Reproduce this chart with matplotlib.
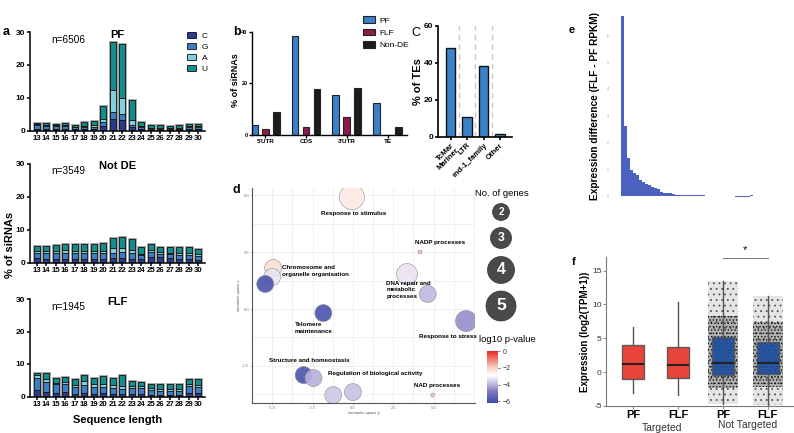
import numpy as np
import matplotlib as mpl
import matplotlib.pyplot as plt
from matplotlib.colors import LinearSegmentedColormap, Normalize

plt.rcParams['font.family'] = ['Liberation Sans', 'DejaVu Sans']
plt.rcParams['hatch.linewidth'] = 0.6

W, H = 794, 433

# ---- panel a : siRNA length / first nucleotide ----
seq_len = list(range(13, 31))
nt_names = ['C', 'G', 'A', 'U']

pf_C = [0.5, 0.5, 0.5, 0.5, 0.4, 0.5, 0.6, 1.5, 3.6, 3.3, 1.0, 0.5, 0.3, 0.3, 0.3, 0.3, 0.4, 0.4]
pf_G = [1.1, 1.0, 0.9, 0.8, 0.6, 0.7, 0.6, 1.1, 1.9, 1.6, 0.7, 0.5, 0.3, 0.3, 0.3, 0.3, 0.6, 0.6]
pf_A = [0.3, 0.2, 0.2, 0.3, 0.2, 0.3, 0.4, 1.0, 6.9, 4.9, 1.5, 0.3, 0.2, 0.2, 0.2, 0.2, 0.3, 0.3]
pf_U = [0.5, 0.5, 0.4, 0.8, 0.55, 1.0, 1.2, 4.0, 14.6, 16.6, 6.1, 1.2, 0.75, 0.75, 0.65, 0.75, 0.7, 0.7]

nd_C = [1.3, 1.2, 1.2, 1.2, 1.1, 1.1, 1.2, 1.2, 1.4, 1.3, 1.2, 1.0, 1.8, 1.6, 1.3, 1.2, 1.1, 0.9]
nd_G = [1.7, 1.6, 1.8, 1.8, 1.7, 1.7, 1.6, 1.6, 1.6, 1.8, 1.7, 1.2, 1.4, 1.0, 1.2, 1.2, 1.3, 1.2]
nd_A = [0.6, 0.6, 0.6, 0.7, 0.6, 0.6, 0.7, 0.7, 1.3, 1.2, 1.0, 0.5, 0.6, 0.5, 0.5, 0.5, 0.6, 0.5]
nd_U = [1.5, 1.5, 1.7, 2.0, 2.1, 2.1, 2.2, 2.4, 3.2, 3.5, 3.2, 1.9, 1.7, 1.5, 1.8, 1.9, 1.8, 1.6]

flf_C = [1.9, 1.4, 1.1, 1.3, 0.8, 1.0, 0.9, 1.2, 0.8, 0.9, 0.8, 0.7, 0.6, 0.6, 0.6, 0.6, 1.2, 1.0]
flf_G = [3.9, 3.0, 2.6, 2.7, 2.2, 2.4, 2.1, 1.8, 1.7, 1.5, 1.7, 1.9, 1.3, 1.2, 1.1, 1.1, 1.9, 1.8]
flf_A = [0.8, 1.0, 0.6, 0.6, 0.6, 1.3, 0.9, 0.8, 0.9, 0.9, 0.6, 0.5, 0.6, 0.5, 0.5, 0.5, 0.7, 0.7]
flf_U = [0.7, 1.7, 1.4, 1.5, 1.7, 1.8, 1.8, 2.5, 2.3, 3.2, 1.7, 1.5, 1.5, 1.5, 1.6, 1.5, 1.6, 1.9]

a_titles = ['PF', 'Not DE', 'FLF']
a_counts = ['n=6506', 'n=3549', 'n=1945']

# ---- panel b : siRNA location ----
regions = ["5'UTR", 'CDS', "3'UTR", 'TE']
b_groups = ['PF', 'FLF', 'Non-DE']
b_pf = [3.9, 38.5, 15.5, 12.5]
b_flf = [2.2, 3.2, 6.8, 0.0]
b_nonde = [9.0, 17.8, 18.3, 3.1]

# ---- panel c : TE classes ----
te_names = ['TcMar\nMariner', 'LTR', 'rnd-1_family', 'Other']
te_pct = [48.2, 10.5, 38.2, 1.5]

# ---- panel d : GO semantic space ----
go_x = [-0.06, 4.15, 3.35, 4.63, 7.01, -1.83, -4.94, -5.0, -5.43, -3.05, -2.44, -1.22, 0.0, 4.94]
go_y = [4.93, 2.51, 1.54, 0.66, -0.53, -0.18, 1.81, 1.41, 1.10, -2.91, -3.04, -3.79, -3.66, -3.79]
go_genes = [5, 1, 4, 3, 4, 3, 3, 3, 3, 3, 3, 3, 3, 1]
go_logp = [-2.5, -1.8, -3.3, -3.9, -4.5, -5.8, -2.3, -3.3, -5.8, -5.8, -4.0, -3.7, -3.8, -1.8]
go_labels = ['Response to stimulus', 'NADP processes', 'Chromosome and\norganelle organisation',
             'DNA repair and\nmetabolic\nprocesses', 'Telomere\nmaintenance', 'Response to stress',
             'Structure and homeostasis', 'Regulation of biological activity', 'NAD processes']
gene_legend = [2, 3, 4, 5]

# ---- panel e : expression difference ----
expr_diff = [6.73, 2.61, 1.42, 0.96, 0.86, 0.77, 0.59, 0.50, 0.44, 0.39, 0.34, 0.30, 0.24, 0.14,
             0.11, 0.11, 0.11, 0.05, 0.04, 0.03, 0.03, 0.02, 0.02, 0.01, 0.01, 0.01, 0.01, 0.01,
             0.0, 0.0, 0.0, 0.0, 0.0, 0.0, 0.0, 0.0, 0.0, -0.02, -0.03, -0.03, -0.03, -0.04, -0.04, 0.01]

# ---- panel f : expression boxplots ----
f_ticks = ['PF', 'FLF', 'PF', 'FLF']
f_groups = ['Targeted', 'Not Targeted']
f_med = [1.13, 1.03, 1.32, 1.32]
f_q1 = [-0.98, -0.88, -0.39, -0.25]
f_q3 = [4.07, 3.77, 5.25, 4.41]
f_wlo = [-3.04, -3.33, -4.66, -4.9]
f_whi = [6.7, 10.3, 13.5, 11.2]


def rect(l, t, r, b):
    return [l / W, 1 - b / H, (r - l) / W, (b - t) / H]


def ftext(x, y, s, **kw):
    fig.text(x / W, 1 - y / H, s, **kw)


def gp_axes(ax, lw=1.1):
    for s in ['top', 'right']:
        ax.spines[s].set_visible(False)
    for s in ['left', 'bottom']:
        ax.spines[s].set_linewidth(lw)
    ax.tick_params(length=2.5, width=lw, pad=1)


fig = plt.figure(figsize=(W / 100, H / 100), dpi=100)

# ---------------- a ----------------
nt_colors = ['#2b3a8f', '#3c7ec6', '#80d0de', '#138d8c']
a_data = [[pf_C, pf_G, pf_A, pf_U], [nd_C, nd_G, nd_A, nd_U], [flf_C, flf_G, flf_A, flf_U]]
a_rects = [(30, 32, 205, 130.5), (30, 163.5, 205, 262.5), (30, 299, 205, 396.5)]
for k in range(3):
    ax = fig.add_axes(rect(*a_rects[k]))
    parts = [np.array(p) for p in a_data[k]]
    total = np.sum(parts, axis=0)
    ax.bar(seq_len, total, width=0.66, facecolor='none', edgecolor='#a0a0a0', linewidth=2.0, zorder=1)
    bottom = np.zeros(len(seq_len))
    for p, c, name in zip(parts, nt_colors, nt_names):
        ax.bar(seq_len, p, bottom=bottom, width=0.66, color=c, edgecolor='#111111',
               linewidth=0.6, label=name, zorder=2)
        bottom += p
    ax.set_xlim(12.3, 30.7)
    ax.set_ylim(0, 30)
    ax.set_yticks([0, 10, 20, 30])
    ax.set_xticks(seq_len)
    ax.set_xticklabels([str(s) for s in seq_len], fontsize=5.6, fontweight='bold')
    ax.set_yticklabels(['0', '10', '20', '30'], fontsize=6, fontweight='bold')
    gp_axes(ax)
    ax.tick_params(axis='x', length=2)
    ax.text(0.12, 0.92, a_counts[k], transform=ax.transAxes, fontsize=7.2, va='center')
    ax.text(0.5, 0.97, a_titles[k], transform=ax.transAxes, fontsize=8, fontweight='bold',
            ha='center', va='center')
    if k == 0:
        ax.legend(loc='upper right', bbox_to_anchor=(1.06, 1.08), frameon=False, fontsize=6,
                  handlelength=1.1, handleheight=0.8, labelspacing=0.35, handletextpad=0.6)

ftext(3, 32, 'a', fontsize=9, fontweight='bold', va='center')
ftext(10, 245, '% of siRNAs', fontsize=8, fontweight='bold', rotation=90, ha='center', va='center')
ftext(118, 420, 'Sequence length', fontsize=8, fontweight='bold', ha='center', va='center')

# ---------------- b ----------------
ax = fig.add_axes(rect(251.7, 31.7, 406.7, 135))
xb = np.arange(len(regions))
b_colors = ['#3b80c9', '#8c1a4b', '#1c1c1c']
for off, vals, c, name in zip([-0.27, 0, 0.27], [b_pf, b_flf, b_nonde], b_colors, b_groups):
    ax.bar(xb + off, vals, width=0.165, color=c, edgecolor='#222222', linewidth=0.8, label=name)
ax.set_xlim(-0.334, 3.47)
ax.set_ylim(0, 40)
ax.set_yticks([0, 20, 40])
ax.set_yticklabels(['0', '20', '40'], fontsize=4, fontweight='bold')
ax.set_xticks(xb)
ax.set_xticklabels(regions, fontsize=4.5, fontweight='bold')
gp_axes(ax, 1.0)
ax.tick_params(length=2)
ax.legend(loc='upper left', bbox_to_anchor=(0.67, 1.22), frameon=False, fontsize=6,
          handlelength=1.4, handleheight=0.9, labelspacing=0.45, handletextpad=0.6)
ftext(233, 32, 'b', fontsize=9, fontweight='bold', va='center')
ftext(235, 80, '% of siRNAs', fontsize=6.5, fontweight='bold', rotation=90, ha='center', va='center')

# ---------------- c ----------------
ax = fig.add_axes(rect(438.3, 25.7, 511.7, 136.7))
xc = np.arange(len(te_names))
ax.bar(xc, te_pct, width=0.58, color='#3d82c8', edgecolor='#111111', linewidth=1.0, zorder=2)
for xv in xc[:-1] + 0.5:
    ax.axvline(xv, color='#c8c8c8', linestyle=(0, (4, 3)), linewidth=1.0, zorder=1)
ax.set_xlim(-0.74, 3.7)
ax.set_ylim(0, 60)
ax.set_yticks([0, 20, 40, 60])
ax.set_yticklabels(['0', '20', '40', '60'], fontsize=6, fontweight='bold')
ax.set_xticks(xc)
ax.set_xticklabels(te_names, fontsize=5.5, fontweight='bold', rotation=45, ha='right',
                   rotation_mode='anchor', linespacing=1.0)
gp_axes(ax, 1.2)
ax.set_ylabel('% of TEs', fontsize=8, fontweight='bold', labelpad=1)
ftext(411, 33, 'C', fontsize=9, va='center')

# ---------------- d ----------------
ax = fig.add_axes(rect(252, 188, 475, 403))
pcmap = LinearSegmentedColormap.from_list(
    'pv', [(0.0, '#3a4aa8'), (0.22, '#7e78c0'), (0.45, '#e4dcef'), (0.53, '#ffffff'),
           (0.7, '#f7c9bc'), (1.0, '#e8261f')])
pnorm = Normalize(vmin=-6.2, vmax=0)
diam = np.interp(go_genes, [1, 3, 4, 5], [4, 17, 21, 25]) * 0.72
ax.scatter(go_x, go_y, s=diam ** 2, c=go_logp, cmap=pcmap, norm=pnorm, edgecolors='#888888',
           linewidths=0.4, alpha=0.92, zorder=3)
ax.set_xlim(-6.04, 7.56)
ax.set_ylim(-4.14, 5.33)
ax.set_xticks([-5, -2.5, 0, 2.5, 5])
ax.set_xticklabels(['-5.0', '-2.5', '0.0', '2.5', '5.0'], fontsize=3, color='#777777')
ax.set_yticks([-2.5, 0, 2.5, 5])
ax.set_yticklabels(['-2.5', '0.0', '2.5', '5.0'], fontsize=3, color='#777777')
ax.set_xticks(np.arange(-6.25, 7.6, 1.25), minor=True)
ax.set_yticks(np.arange(-3.75, 5.3, 1.25), minor=True)
ax.grid(True, which='both', color='#ececec', linewidth=0.6)
ax.set_axisbelow(True)
ax.tick_params(which='both', length=1, width=0.4, pad=1)
ax.tick_params(which='minor', length=0)
for s in ['top', 'right']:
    ax.spines[s].set_visible(False)
for s in ['left', 'bottom']:
    ax.spines[s].set_color('#555555')
    ax.spines[s].set_linewidth(0.8)
ax.set_xlabel('semantic space y', fontsize=3, color='#555555', labelpad=1)
ax.set_ylabel('semantic space x', fontsize=3, color='#555555', labelpad=1)
lab_pos = [(0.06, 4.19, 'center'), (5.37, 2.95, 'center'), (-4.39, 1.67, 'left'),
           (2.07, 0.84, 'left'), (-3.6, -0.84, 'left'), (5.91, -1.19, 'center'),
           (-5.18, -2.25, 'left'), (-1.52, -2.82, 'left'), (5.24, -3.39, 'center')]
for (lx, ly, ha), s in zip(lab_pos, go_labels):
    ax.text(lx, ly, s, fontsize=4.5, fontweight='bold', ha=ha, va='center', linespacing=1.3,
            zorder=4)
ftext(233, 190, 'd', fontsize=9, fontweight='bold', va='center')

cax = fig.add_axes(rect(487, 351, 498, 403))
cb = fig.colorbar(mpl.cm.ScalarMappable(norm=pnorm, cmap=pcmap), cax=cax)
cb.outline.set_visible(False)
cb.set_ticks([0, -2, -4, -6])
cb.ax.tick_params(labelsize=5, length=1.5, width=0.5, pad=2, colors='#333333')
ftext(507, 339, 'log10 p-value', fontsize=6.8, ha='center', va='center')

# ---------------- e ----------------
ax = fig.add_axes(rect(612, 10, 760, 200))
ax.bar(np.arange(len(expr_diff)), expr_diff, width=0.92, color='#4b62c0', linewidth=0)
ax.set_xlim(-3.4, 45.9)
ax.set_ylim(-0.16, 6.95)
ax.set_yticks(range(7))
ax.set_yticklabels([str(v) for v in range(7)], fontsize=2.5, color='#999999')
ax.set_xticks([])
for s in ax.spines.values():
    s.set_visible(False)
ax.tick_params(axis='y', length=1, width=0.3, color='#cccccc', pad=1)
ftext(595, 106, 'Expression difference (FLF - PF RPKM)', fontsize=7.3, fontweight='bold',
      rotation=90, ha='center', va='center')
ftext(569, 30, 'e', fontsize=8, fontweight='bold', va='center')

# ---------------- f ----------------
ax = fig.add_axes(rect(606, 257, 793, 406))
xf = np.arange(len(f_ticks))
# dense jitter clouds of the not-targeted genes shown as stippling
for i in [2, 3]:
    ax.bar(xf[i], f_whi[i] - f_wlo[i], bottom=f_wlo[i], width=0.68, facecolor=(0, 0, 0, 0.10),
           edgecolor='#555555', hatch='...', linewidth=0, zorder=1)
    ax.bar(xf[i], f_q3[i] + 3 - f_q1[i] + 2, bottom=f_q1[i] - 2, width=0.68,
           facecolor=(0, 0, 0, 0.22), edgecolor='#111111', hatch='.....', linewidth=0, zorder=1)
stats = [dict(med=m, q1=a, q3=b, whislo=lo, whishi=hi, fliers=[])
         for m, a, b, lo, hi in zip(f_med, f_q1, f_q3, f_wlo, f_whi)]
bp = ax.bxp(stats, positions=xf, widths=0.5, patch_artist=True, showcaps=False,
            boxprops=dict(edgecolor='#555555', linewidth=1.0),
            whiskerprops=dict(color='#555555', linewidth=1.0),
            medianprops=dict(color='#222222', linewidth=1.5), zorder=2)
f_colors = ['#e8362c', '#e8362c', '#1f4f9e', '#1f4f9e']
for patch, c in zip(bp['boxes'], f_colors):
    patch.set_facecolor(c)
    patch.set_alpha(0.93)
ax.set_xlim(-0.6, 3.56)
ax.set_ylim(-5, 17)
ax.set_yticks([-5, 0, 5, 10, 15])
ax.set_yticklabels(['-5', '0', '5', '10', '15'], fontsize=6, color='#333333')
ax.set_xticks(xf)
ax.set_xticklabels(f_ticks, fontsize=8, fontweight='bold')
for s in ['top', 'right']:
    ax.spines[s].set_visible(False)
for s in ['left', 'bottom']:
    ax.spines[s].set_color('#777777')
    ax.spines[s].set_linewidth(0.8)
ax.tick_params(length=2, width=0.6, color='#777777', pad=1)
ax.plot([2, 3], [16.9, 16.9], color='#777777', linewidth=0.7, clip_on=False)
ax.text(2.5, 17.3, '*', fontsize=8, ha='center', va='bottom', clip_on=False)
ax.set_ylabel('Expression (log2(TPM+1))', fontsize=7, fontweight='bold', labelpad=2)
ftext(662, 428, f_groups[0], fontsize=7.5, color='#333333', ha='center', va='center')
ftext(748, 425, f_groups[1], fontsize=7.5, color='#333333', ha='center', va='center')
ftext(572, 262, 'f', fontsize=8, fontweight='bold', va='center')

# ---------------- gene-count legend (overlay in pixel units) ----------------
ov = fig.add_axes([0, 0, 1, 1])
ov.set_xlim(0, W)
ov.set_ylim(H, 0)
ov.axis('off')
ov.patch.set_visible(False)
leg_y = [212, 238, 270, 306]
leg_d = [17, 21, 27, 30]
ov.scatter([501] * 4, leg_y, s=(np.array(leg_d) * 0.72) ** 2, color='#4a4a4a', edgecolors='#333333',
           linewidths=0.5)
for yv, d, g in zip(leg_y, leg_d, gene_legend):
    ov.text(501, yv, str(g), color='white', fontsize=d * 0.42, fontweight='bold',
            ha='center', va='center')
ov.text(502, 194, 'No. of genes', fontsize=6.8, ha='center', va='center')

fig.savefig('out.png', dpi=100)
